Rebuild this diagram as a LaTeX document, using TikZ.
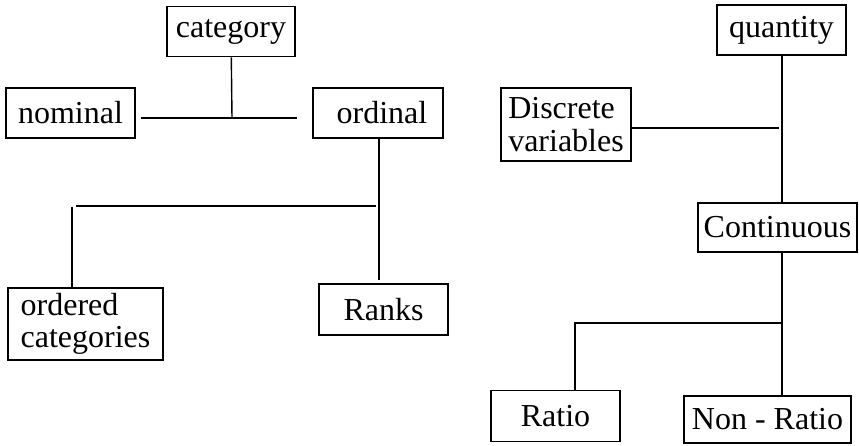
\documentclass[tikz,border=0pt]{standalone}
\usepackage{fontspec}
\setmainfont{Liberation Serif}
\usepackage{tikz}
\usetikzlibrary{positioning}

\begin{document}
\begin{tikzpicture}[
    x=1pt, y=-1pt,
    every node/.style={font=\fontsize{32}{32.5}\selectfont, inner sep=2pt},
    % Boxed term
    term/.style={draw, line width=1.6pt, minimum width=#1, minimum height=50pt, align=left},
    % Plain tree line
    link/.style={line width=1.4pt}
]
\useasboundingbox (0,0) rectangle (859,446);

% === CATEGORY SIDE ===

\node[term=128pt] (category) at (231,31.5) {category};
\node[term=129pt] (nominal) at (70.5,113) {nominal};
\node[term=130pt] (ordinal) at (378,113) {\ ordinal};
\node[term=155pt, minimum height=72pt] (ordered) at (85.5,324) {ordered\\categories};
\node[term=129pt, minimum height=51pt] (ranks) at (383.5,309.5) {Ranks};

% junction points
\coordinate (catjoin) at (232,118);
\coordinate (nomend) at (141,118);
\coordinate (ordend) at (297,118);
\coordinate (rankend) at (379,280);
\coordinate (splitleft) at (76,206);
\coordinate (splitright) at (376,206);
\coordinate (ordtop) at (72,207);

% category -> nominal / ordinal
\draw[link] (category) -- (catjoin);
\draw[link] (nomend) -- (ordend);

% ordinal -> ordered categories / ranks
\draw[link] (ordinal.south -| rankend) -- (rankend);
\draw[link] (splitleft) -- (splitright);
\draw[link] (ordtop) -- (ordtop |- ordered.north);

% === QUANTITY SIDE ===

\node[term=129pt] (quantity) at (781.5,30) {quantity};
\node[term=130pt, minimum height=73pt] (discrete) at (566,124.5) {Discrete\\variables};
\node[term=159pt, minimum height=49pt] (continuous) at (777.5,227.5) {Continuous};
\node[term=129pt, minimum height=51pt] (ratio) at (555.5,416) {Ratio};
\node[term=167pt, minimum height=47pt] (nonratio) at (767.5,419.5) {Non - Ratio};

% junction points
\coordinate (qtrunk) at (782,128);
\coordinate (discend) at (779,128);
\coordinate (csplit) at (782,323);
\coordinate (ratiosplit) at (575,323);

% quantity -> discrete / continuous
\draw[link] (quantity.south -| qtrunk) -- (continuous.north -| qtrunk);
\draw[link] (discrete.east |- discend) -- (discend);

% continuous -> ratio / non-ratio
\draw[link] (continuous.south -| csplit) -- (nonratio.north -| csplit);
\draw[link] (csplit) -- (ratiosplit) -- (ratiosplit |- ratio.north);

\end{tikzpicture}
\end{document}
